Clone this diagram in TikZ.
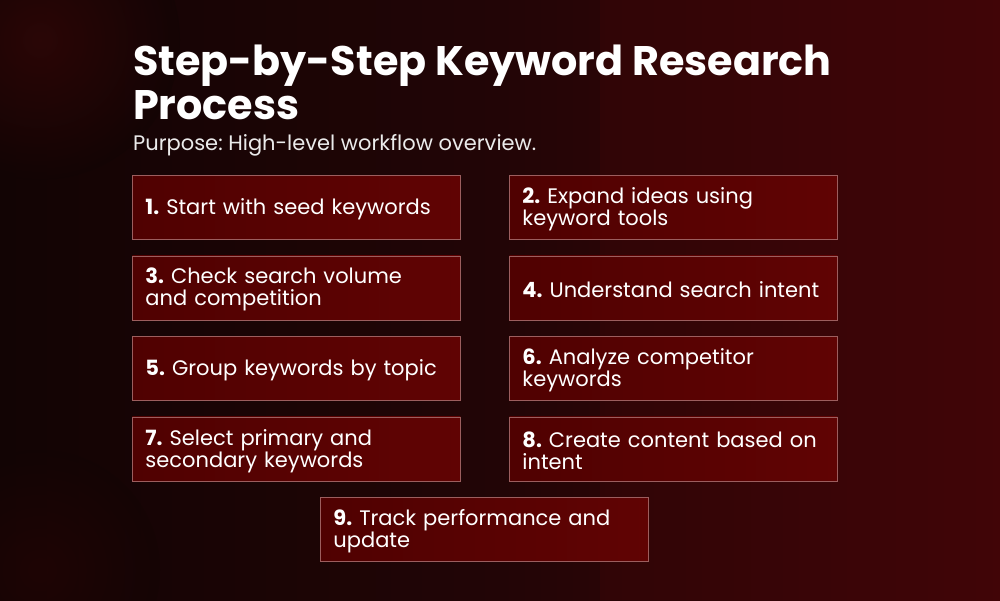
\documentclass[tikz,border=0pt]{standalone}
\usepackage{fontspec}
\setmainfont{Poppins}
\definecolor{bgdark}{HTML}{120404}
\definecolor{bgmid}{HTML}{220506}
\definecolor{bgred}{HTML}{410507}
\definecolor{glow}{HTML}{3A0808}
\definecolor{boxl}{HTML}{500101}
\definecolor{boxr}{HTML}{600303}
\definecolor{boxline}{HTML}{9C5E5E}
\hyphenpenalty=10000
\exhyphenpenalty=10000
\frenchspacing
\tikzset{
  stepbox/.style={draw=boxline, line width=0.9pt, left color=boxl, right color=boxr,
    anchor=north west, minimum width=328, minimum height=64, text width=302,
    inner xsep=13, inner ysep=0, align=left, text=white,
    font=\fontsize{21}{22}\selectfont},
  titletext/.style={anchor=north west, inner sep=0, text=white, align=left,
    font=\fontsize{41.3}{44}\selectfont\bfseries},
  subtext/.style={anchor=north west, inner sep=0, text=white!92!black, align=left,
    font=\fontsize{21}{24}\selectfont}
}
\newcommand{\stepnum}[1]{\rule{0pt}{19.5pt}\textbf{#1}}
\begin{document}
\begin{tikzpicture}[x=1pt,y=-1pt]
  \useasboundingbox (0,0) rectangle (1000,600);
  \clip (0,0) rectangle (1000,600);
  % background
  \shade[left color=bgdark, right color=bgred, middle color=bgmid] (0,0) rectangle (1000,600);
  \fill[bgred, opacity=0.35] (600,0) rectangle (1000,600);
  \shade[inner color=glow, outer color=bgdark, opacity=0.6] (40,40) circle (140);
  \shade[inner color=glow!80!black, outer color=bgdark, opacity=0.4] (40,570) circle (120);

  % title
  \node[titletext] (title) at (133,45) {Step-by-Step Keyword Research\\Process};
  \node[subtext] (sub) at (133,134) {Purpose: High-level workflow overview.};

  % boxes
  \node[stepbox] (s1) at (132,175) {\stepnum{1.} Start with seed keywords};
  \node[stepbox] (s2) at (509,175) {\stepnum{2.} Expand ideas using keyword tools};
  \node[stepbox] (s3) at (132,255.5) {\stepnum{3.} Check search volume and competition};
  \node[stepbox] (s4) at (509,255.5) {\stepnum{4.} Understand search intent};
  \node[stepbox] (s5) at (132,336) {\stepnum{5.} Group keywords by topic};
  \node[stepbox] (s6) at (509,336) {\stepnum{6.} Analyze competitor keywords};
  \node[stepbox] (s7) at (132,416.5) {\stepnum{7.} Select primary and secondary keywords};
  \node[stepbox] (s8) at (509,416.5) {\stepnum{8.} Create content based on intent};
  \node[stepbox] (s9) at (320,497) {\stepnum{9.} Track performance and update};
\end{tikzpicture}
\end{document}
